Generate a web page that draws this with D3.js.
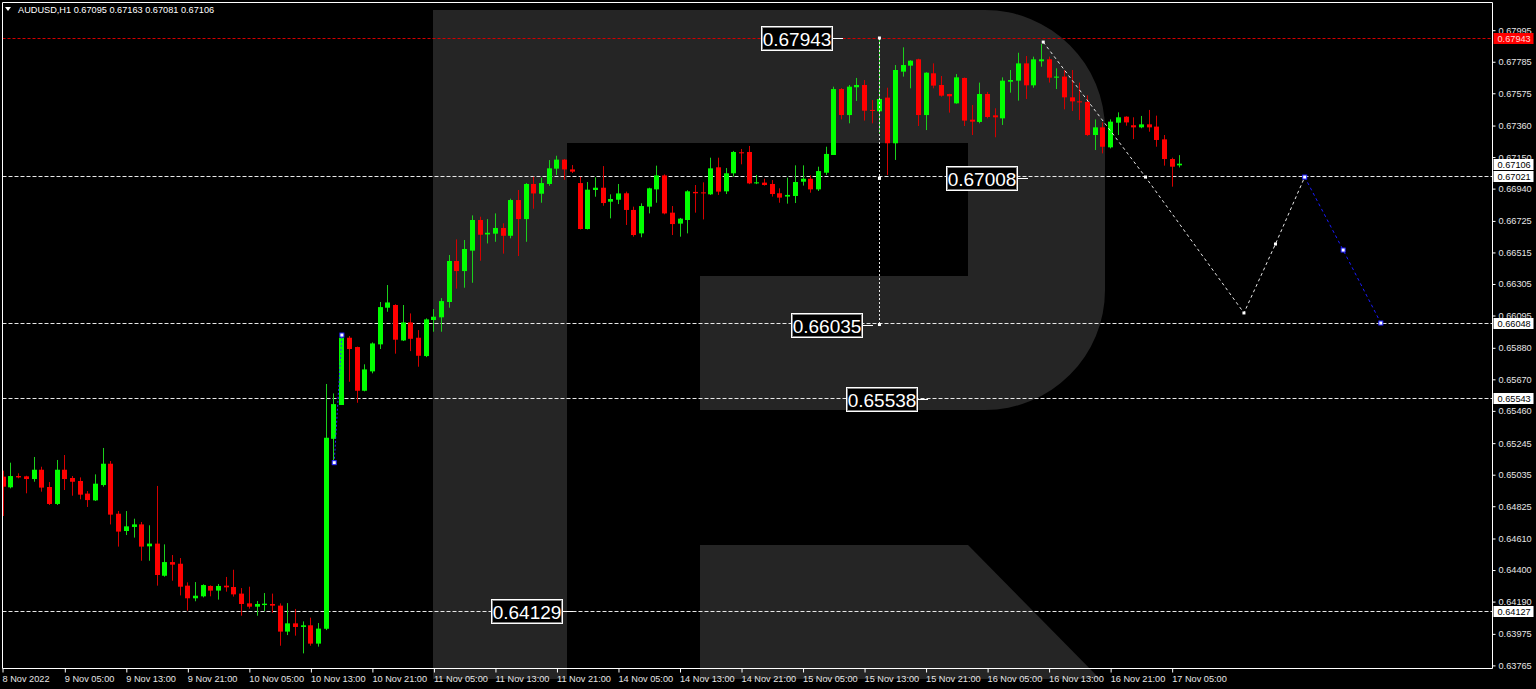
<!DOCTYPE html>
<html>
<head>
<meta charset="utf-8">
<title>AUDUSD,H1</title>
<script src="https://d3js.org/d3.v7.min.js"></script>
<style>
body { margin:0; background:#000; overflow:hidden; }
text { font-family: "Liberation Sans", Arial, sans-serif; }
</style>
</head>
<body>
<div id="chart-area"></div>
<script>
/*
*    AUDUSD H1 candles, 8 Nov 21:00 .. 17 Nov 06:00
*/

// bar index 0 = 9 Nov 05:00
var barIdx = d3.range(-8, 146);

var open = [0.65022,0.64951,0.65026,0.65024,0.65006,0.65068,0.64953,0.64840,
  0.65068,0.65013,0.64993,0.64909,0.64864,0.64966,0.65108,0.64775,0.64660,0.64687,
  0.64704,0.64558,0.64576,0.64362,0.64453,0.64442,0.64296,0.64212,0.64225,0.64294,
  0.64263,0.64296,0.64287,0.64243,0.64178,0.64156,0.64167,0.64174,0.64163,0.63990,
  0.64045,0.64021,0.64032,0.63910,0.64009,0.65274,0.65499,0.65947,0.65885,0.65594,
  0.65723,0.65903,0.66147,0.66165,0.65929,0.66049,0.65947,0.65825,0.66065,0.66083,
  0.66185,0.66458,0.66391,0.66527,0.66731,0.66635,0.66640,0.66678,0.66626,0.66864,
  0.66737,0.66971,0.66906,0.66971,0.67073,0.67133,0.67068,0.66977,0.66671,0.66931,
  0.66946,0.66853,0.66866,0.66909,0.66798,0.66642,0.66820,0.66935,0.67028,0.66780,
  0.66707,0.66731,0.66918,0.66915,0.66902,0.67082,0.66922,0.67042,0.67182,0.67184,
  0.66975,0.66980,0.66971,0.66909,0.66887,0.66891,0.66986,0.67006,0.66935,0.67046,
  0.67164,0.67603,0.67430,0.67615,0.67630,0.67464,0.67455,0.67546,0.67242,0.67719,
  0.67759,0.67801,0.67430,0.67708,0.67630,0.67570,0.67508,0.67677,0.67399,0.67384,
  0.67570,0.67428,0.67408,0.67652,0.67659,0.67774,0.67628,0.67788,0.67801,0.67679,
  0.67686,0.67548,0.67521,0.67517,0.67297,0.67348,0.67215,0.67379,0.67419,0.67362,
  0.67348,0.67368,0.67353,0.67268,0.67137,0.67095];

var high = [0.65062,0.65115,0.65044,0.65028,0.65153,0.65088,0.64986,0.65133,
  0.65166,0.65026,0.65017,0.64926,0.65037,0.65213,0.65126,0.64793,0.64793,0.64742,
  0.64720,0.64698,0.64960,0.64571,0.64500,0.64480,0.64318,0.64320,0.64305,0.64298,
  0.64307,0.64354,0.64402,0.64280,0.64289,0.64194,0.64247,0.64243,0.64178,0.64180,
  0.64141,0.64058,0.64083,0.64047,0.65639,0.65576,0.65965,0.65958,0.65888,0.65770,
  0.65916,0.66185,0.66298,0.66170,0.66165,0.66109,0.65998,0.66076,0.66138,0.66211,
  0.66498,0.66602,0.66598,0.66762,0.66753,0.66737,0.66775,0.66709,0.66873,0.66931,
  0.66977,0.67019,0.67013,0.67130,0.67159,0.67137,0.67097,0.67019,0.66984,0.67015,
  0.67090,0.66902,0.66971,0.66920,0.66820,0.66842,0.66946,0.67093,0.67035,0.66824,
  0.66745,0.66929,0.66964,0.66982,0.67146,0.67146,0.67077,0.67191,0.67204,0.67224,
  0.67031,0.67006,0.66997,0.66942,0.67013,0.67095,0.67095,0.67028,0.67086,0.67219,
  0.67619,0.67610,0.67630,0.67677,0.67663,0.67530,0.67943,0.67612,0.67763,0.67881,
  0.67795,0.67805,0.67715,0.67774,0.67690,0.67572,0.67703,0.67680,0.67497,0.67646,
  0.67584,0.67475,0.67681,0.67730,0.67845,0.67823,0.67819,0.67903,0.67819,0.67741,
  0.67730,0.67730,0.67646,0.67561,0.67401,0.67381,0.67401,0.67448,0.67422,0.67415,
  0.67424,0.67464,0.67426,0.67297,0.67146,0.67163];

var low = [0.64760,0.64944,0.65011,0.64911,0.64988,0.64922,0.64833,0.64833,
  0.64933,0.64895,0.64871,0.64820,0.64860,0.64955,0.64704,0.64556,0.64633,0.64616,
  0.64462,0.64462,0.64296,0.64356,0.64329,0.64231,0.64130,0.64192,0.64218,0.64225,
  0.64203,0.64256,0.64223,0.64096,0.64143,0.64096,0.64127,0.64116,0.63896,0.63967,
  0.63963,0.63845,0.63896,0.63890,0.64000,0.65110,0.65499,0.65654,0.65514,0.65590,
  0.65710,0.65872,0.66120,0.65841,0.65925,0.65858,0.65754,0.65818,0.65987,0.65987,
  0.66147,0.66274,0.66280,0.66313,0.66460,0.66575,0.66586,0.66507,0.66609,0.66491,
  0.66586,0.66806,0.66846,0.66959,0.67031,0.66999,0.67044,0.66668,0.66668,0.66886,
  0.66826,0.66742,0.66837,0.66698,0.66620,0.66616,0.66775,0.66846,0.66769,0.66631,
  0.66620,0.66642,0.66780,0.66735,0.66898,0.66898,0.66904,0.67020,0.67102,0.66970,
  0.66970,0.66960,0.66887,0.66846,0.66840,0.66844,0.66960,0.66913,0.66924,0.67031,
  0.67164,0.67401,0.67375,0.67524,0.67393,0.67375,0.67308,0.67031,0.67131,0.67686,
  0.67608,0.67357,0.67330,0.67608,0.67552,0.67446,0.67505,0.67357,0.67297,0.67375,
  0.67408,0.67282,0.67364,0.67579,0.67526,0.67537,0.67612,0.67752,0.67646,0.67603,
  0.67468,0.67457,0.67397,0.67290,0.67197,0.67175,0.67208,0.67297,0.67359,0.67270,
  0.67342,0.67319,0.67219,0.67093,0.66953,0.67081];

var close = [0.64955,0.65026,0.65017,0.65006,0.65068,0.64949,0.64840,0.65068,
  0.65006,0.64988,0.64902,0.64866,0.64975,0.65108,0.64769,0.64656,0.64691,0.64704,
  0.64556,0.64576,0.64367,0.64453,0.64436,0.64289,0.64212,0.64229,0.64300,0.64263,
  0.64294,0.64285,0.64238,0.64174,0.64156,0.64174,0.64176,0.64163,0.63990,0.64045,
  0.64021,0.64032,0.63910,0.64010,0.65281,0.65505,0.65947,0.65872,0.65594,0.65736,
  0.65909,0.66151,0.66182,0.65934,0.66049,0.65940,0.65827,0.66069,0.66087,0.66191,
  0.66458,0.66391,0.66538,0.66731,0.66633,0.66646,0.66678,0.66626,0.66864,0.66737,
  0.66971,0.66908,0.66977,0.67075,0.67133,0.67068,0.67053,0.66671,0.66933,0.66946,
  0.66844,0.66871,0.66908,0.66798,0.66631,0.66824,0.66942,0.67028,0.66775,0.66704,
  0.66740,0.66922,0.66909,0.66909,0.67075,0.66920,0.67042,0.67184,0.67175,0.66975,
  0.66982,0.66964,0.66904,0.66880,0.66898,0.66984,0.67006,0.66935,0.67057,0.67171,
  0.67603,0.67430,0.67619,0.67630,0.67459,0.67457,0.67537,0.67242,0.67730,0.67763,
  0.67792,0.67430,0.67712,0.67626,0.67559,0.67555,0.67681,0.67393,0.67386,0.67570,
  0.67417,0.67415,0.67659,0.67663,0.67774,0.67628,0.67801,0.67801,0.67679,0.67686,
  0.67548,0.67521,0.67517,0.67297,0.67348,0.67219,0.67386,0.67415,0.67381,0.67348,
  0.67368,0.67348,0.67264,0.67137,0.67086,0.67106];

// axis ticks
var priceTicks = [0.67995,0.67785,0.67575,0.67360,0.67150,0.66940,0.66725,0.66515,
  0.66305,0.66095,0.65880,0.65670,0.65460,0.65245,0.65035,0.64825,0.64610,0.64400,
  0.64190,0.63975,0.63765];
var timeTickIdx = [-8,0,8,16,24,32,40,48,56,64,72,80,88,96,104,112,120,128,136,144];
var timeTickLabels = ["8 Nov 2022","9 Nov 05:00","9 Nov 13:00","9 Nov 21:00",
  "10 Nov 05:00","10 Nov 13:00","10 Nov 21:00","11 Nov 05:00","11 Nov 13:00",
  "11 Nov 21:00","14 Nov 05:00","14 Nov 13:00","14 Nov 21:00","15 Nov 05:00",
  "15 Nov 13:00","15 Nov 21:00","16 Nov 05:00","16 Nov 13:00","16 Nov 21:00",
  "17 Nov 05:00"];

// levels
var levelPrices = [0.67021, 0.66048, 0.65543, 0.64127];
var maxLevel = 0.67943;
var bidPrice = 0.67106;

// text labels (anchor = bar index at end of the dash)
var noteText = ["0.67943","0.67008","0.66035","0.65538","0.64129"];
var notePrice = [0.67943, 0.67008, 0.66035, 0.65538, 0.64129];
var noteIdx = [101.3, 125.3, 105.1, 112.3, 66.2];

// forecast path
var waveIdx = [127.3, 140.6, 153.4, 157.5, 161.3];
var wavePrice = [0.67916, 0.67017, 0.66112, 0.66571, 0.67017];
var blueIdx = [161.3, 166.3, 171.2];
var bluePrice = [0.67017, 0.66531, 0.66045];
var oldIdx = [35.1, 36.1];
var oldPrice = [0.65115, 0.65965];
var rangeIdx = 106;

var candles = barIdx.map(function(i, k) {
    return { i:i, o:open[k], h:high[k], l:low[k], c:close[k] };
});

var width = 1536, height = 689;
var frame = { left:2.5, top:2.5, right:1492.5, bottom:668.5 };

var svg = d3.select("#chart-area")
    .append("svg")
    .attr("width", width)
    .attr("height", height)
    .style("display", "block")
    .style("background", "#000");

// Scales
var x = d3.scaleLinear().domain([0, 144]).range([64.3, 64.3 + 144 * 7.69]);
var y = d3.scaleLinear().domain([0.63765, 0.67995]).range([665.4, 30.2]);

// watermark "R"
svg.append("path")
    .attr("fill", "#252525")
    .attr("d", "M433,10 H985 A120,120 0 0 1 1105,130 V290 A120,120 0 0 1 985,410 H700 V276 H968 V143 H567 V679 H433 Z");
svg.append("path")
    .attr("fill", "#252525")
    .attr("d", "M700,545 H968 L1100,679 H700 Z");

svg.append("defs").append("clipPath")
    .attr("id", "plot-clip")
    .append("rect")
    .attr("x", frame.left + 0.5)
    .attr("y", frame.top + 0.5)
    .attr("width", frame.right - frame.left - 1)
    .attr("height", frame.bottom - frame.top - 1);

var g = svg.append("g").attr("clip-path", "url(#plot-clip)");

// Levels
g.append("line")
    .attr("x1", frame.left).attr("x2", frame.right)
    .attr("y1", Math.round(y(maxLevel)) + 0.5).attr("y2", Math.round(y(maxLevel)) + 0.5)
    .attr("stroke", "#d00000")
    .attr("stroke-dasharray", "3,2");

g.selectAll(".level")
    .data(levelPrices)
    .enter().append("line")
    .attr("class", "level")
    .attr("x1", frame.left).attr("x2", frame.right)
    .attr("y1", function(d){ return Math.round(y(d)) + 0.5; })
    .attr("y2", function(d){ return Math.round(y(d)) + 0.5; })
    .attr("stroke", "#e8e8e8")
    .attr("stroke-dasharray", "4,2");

// Candles
var bar = g.selectAll(".candle")
    .data(candles)
    .enter().append("g")
    .attr("class", "candle");

bar.append("line")
    .attr("x1", function(d){ return Math.round(x(d.i)) + 0.5; })
    .attr("x2", function(d){ return Math.round(x(d.i)) + 0.5; })
    .attr("y1", function(d){ return y(d.h); })
    .attr("y2", function(d){ return y(d.l); })
    .attr("stroke", function(d){ return d.c >= d.o ? "#1bd01b" : "#d40000"; })
    .attr("stroke-width", 1);

bar.append("rect")
    .attr("x", function(d){ return Math.round(x(d.i)) - 2; })
    .attr("width", 5)
    .attr("y", function(d){ return y(Math.max(d.o, d.c)); })
    .attr("height", function(d){ return Math.max(1, Math.abs(y(d.o) - y(d.c))); })
    .attr("fill", function(d){ return d.c >= d.o ? "#00ff00" : "#ff0000"; });

// Vertical range line
g.append("line")
    .attr("x1", Math.round(x(rangeIdx)) + 0.5).attr("x2", Math.round(x(rangeIdx)) + 0.5)
    .attr("y1", y(maxLevel)).attr("y2", y(notePrice[2]))
    .attr("stroke", "#e8e8e8")
    .attr("stroke-dasharray", "2,2");

// Forecast path
var line = d3.line()
    .x(function(d){ return x(d[0]); })
    .y(function(d){ return y(d[1]); });

var wavePts = d3.zip(waveIdx, wavePrice);
var bluePts = d3.zip(blueIdx, bluePrice);
var oldPts = d3.zip(oldIdx, oldPrice);

g.append("path")
    .attr("d", line(wavePts))
    .attr("fill", "none")
    .attr("stroke", "#e8e8e8")
    .attr("stroke-dasharray", "3,3");
g.append("path")
    .attr("d", line(bluePts))
    .attr("fill", "none")
    .attr("stroke", "#1a1aff")
    .attr("stroke-dasharray", "3,3");
g.append("path")
    .attr("d", line(oldPts))
    .attr("fill", "none")
    .attr("stroke", "#2a2aff")
    .attr("stroke-dasharray", "2,2");

// point markers
var whiteMarks = wavePts.concat([[rangeIdx, maxLevel], [rangeIdx, notePrice[1]], [rangeIdx, notePrice[2]]]);
g.selectAll(".wmark")
    .data(whiteMarks)
    .enter().append("rect")
    .attr("class", "wmark")
    .attr("x", function(d){ return x(d[0]) - 1.5; })
    .attr("y", function(d){ return y(d[1]) - 1.5; })
    .attr("width", 3).attr("height", 3)
    .attr("fill", "#fff");

g.selectAll(".bmark")
    .data(bluePts.concat(oldPts))
    .enter().append("rect")
    .attr("class", "bmark")
    .attr("x", function(d){ return x(d[0]) - 2; })
    .attr("y", function(d){ return y(d[1]) - 2; })
    .attr("width", 4).attr("height", 4)
    .attr("fill", "#fff")
    .attr("stroke", "#2020ff");

// Big price notes
var notes = g.selectAll(".note")
    .data(noteText)
    .enter().append("g")
    .attr("class", "note")
    .attr("transform", function(d, k){
        return "translate(" + Math.round(x(noteIdx[k])) + "," + Math.round(y(notePrice[k])) + ")";
    });

notes.append("line")
    .attr("x1", -10).attr("x2", 0)
    .attr("y1", 0.5).attr("y2", 0.5)
    .attr("stroke", "#fff");
notes.append("rect")
    .attr("x", -81.5).attr("y", -11.5)
    .attr("width", 71).attr("height", 24)
    .attr("fill", "#000")
    .attr("stroke", "#fff");
notes.append("rect")
    .attr("x", -80.5).attr("y", -10.5)
    .attr("width", 69).attr("height", 22)
    .attr("fill", "none")
    .attr("stroke", "#808080");
notes.append("text")
    .attr("x", -46)
    .attr("y", 8)
    .attr("text-anchor", "middle")
    .attr("font-size", "19px")
    .attr("fill", "#fff")
    .text(function(d){ return d; });

// Frame
svg.append("path")
    .attr("d", "M" + frame.left + "," + frame.top + " V" + frame.bottom + " H" + frame.right + " V" + frame.top + " Z")
    .attr("fill", "none")
    .attr("stroke", "#fff");

// Y-axis
var yAxisCall = d3.axisRight(y)
    .tickValues(priceTicks)
    .tickFormat(d3.format(".5f"))
    .tickSize(3)
    .tickPadding(3);
var yAxis = svg.append("g")
    .attr("class", "y axis")
    .attr("transform", "translate(" + frame.right + ",0)")
    .call(yAxisCall);
yAxis.select(".domain").remove();
yAxis.selectAll("line").attr("stroke", "#fff");
yAxis.selectAll("text")
    .attr("fill", "#e6e6e6")
    .attr("font-size", "9.2px")
    .attr("font-family", "Liberation Sans, Arial, sans-serif");

// X-axis
var xAxisCall = d3.axisBottom(x)
    .tickValues(timeTickIdx)
    .tickFormat(function(d, k){ return timeTickLabels[k]; })
    .tickSize(4)
    .tickPadding(3);
var xAxis = svg.append("g")
    .attr("class", "x axis")
    .attr("transform", "translate(0," + frame.bottom + ")")
    .call(xAxisCall);
xAxis.select(".domain").remove();
xAxis.selectAll("line").attr("stroke", "#fff").attr("transform", "translate(0.5,0)");
xAxis.selectAll("text")
    .attr("text-anchor", "start")
    .attr("x", 0)
    .attr("fill", "#e6e6e6")
    .attr("font-size", "9.2px")
    .attr("font-family", "Liberation Sans, Arial, sans-serif");
xAxis.select(".tick").attr("transform", "translate(" + frame.left + ",0)");

// Price tags on the right scale
var tagPrice = [maxLevel, bidPrice].concat(levelPrices);
var tagFill = ["#ff0000", "#fff", "#fff", "#fff", "#fff", "#fff"];
var tags = svg.selectAll(".tag")
    .data(tagPrice)
    .enter().append("g")
    .attr("class", "tag")
    .attr("transform", function(d){ return "translate(" + (frame.right + 1) + "," + Math.round(y(d)) + ")"; });
tags.append("rect")
    .attr("x", 0).attr("y", -5)
    .attr("width", 40).attr("height", 11)
    .attr("fill", function(d, k){ return tagFill[k]; });
tags.append("text")
    .attr("x", 4).attr("y", 4)
    .attr("font-size", "9.2px")
    .attr("fill", function(d, k){ return k === 0 ? "#ffd8d8" : "#000"; })
    .text(function(d){ return d3.format(".5f")(d); });

// Title
svg.append("path")
    .attr("d", "M5,7 H11 L8,11 Z")
    .attr("fill", "#fff");
svg.append("text")
    .attr("x", 18).attr("y", 13)
    .attr("font-size", "9.2px")
    .attr("fill", "#fff")
    .text("AUDUSD,H1  0.67095 0.67163 0.67081 0.67106");
</script>
</body>
</html>
